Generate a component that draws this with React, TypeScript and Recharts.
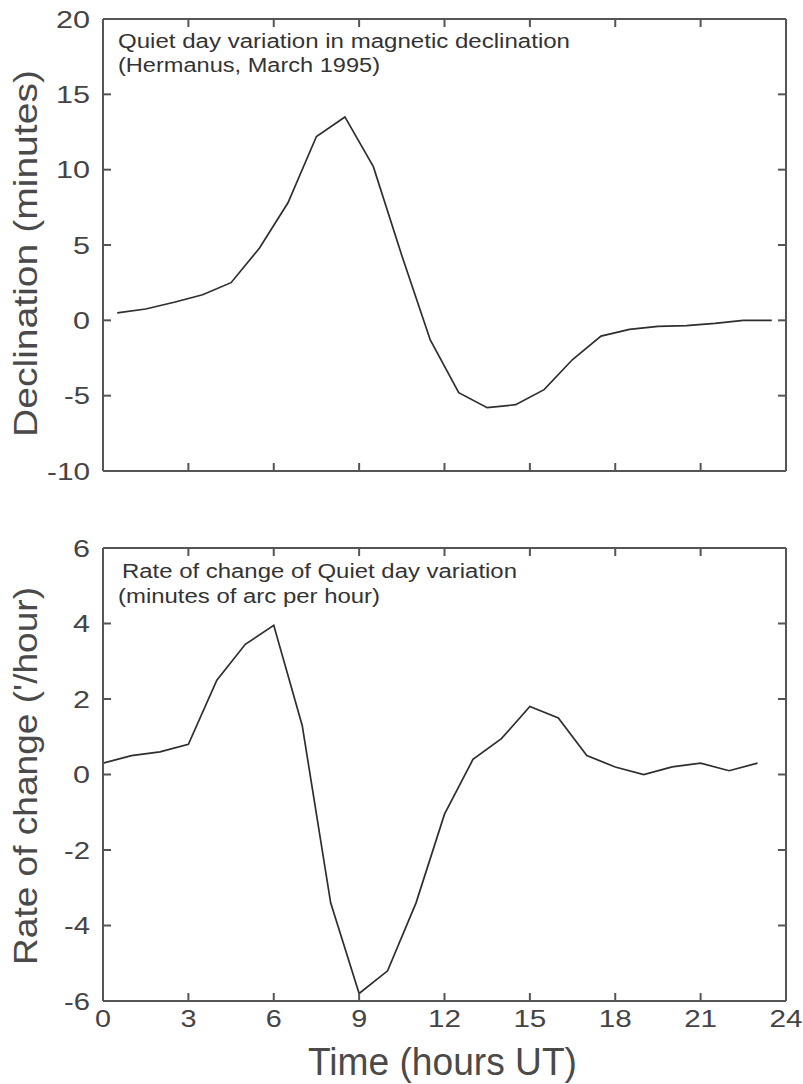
import React from 'react';
import { LineChart, Line, XAxis, YAxis } from 'recharts';

// ---------- data ----------
const HOURS_DECL = [0.5, 1.5, 2.5, 3.5, 4.5, 5.5, 6.5, 7.5, 8.5, 9.5, 10.5, 11.5, 12.5, 13.5, 14.5, 15.5, 16.5, 17.5, 18.5, 19.5, 20.5, 21.5, 22.5, 23.5];
const DECLINATION = [0.5, 0.75, 1.2, 1.7, 2.5, 4.8, 7.8, 12.2, 13.5, 10.2, 4.3, -1.3, -4.8, -5.8, -5.6, -4.6, -2.6, -1.05, -0.6, -0.4, -0.35, -0.2, 0.0, 0.0];

const HOURS_RATE = [0, 1, 2, 3, 4, 5, 6, 7, 8, 9, 10, 11, 12, 13, 14, 15, 16, 17, 18, 19, 20, 21, 22, 23];
const RATE = [0.3, 0.5, 0.6, 0.8, 2.5, 3.45, 3.95, 1.3, -3.4, -5.8, -5.2, -3.4, -1.05, 0.4, 0.95, 1.8, 1.5, 0.5, 0.2, 0.0, 0.2, 0.3, 0.1, 0.3];

const X_TICKS = [0, 3, 6, 9, 12, 15, 18, 21, 24];
const DECL_TICKS = [-10, -5, 0, 5, 10, 15, 20];
const RATE_TICKS = [-6, -4, -2, 0, 2, 4, 6];

const DECL_TITLE = ['Quiet day variation in magnetic declination', '(Hermanus, March 1995)'];
const RATE_TITLE = ['Rate of change of Quiet day variation', '(minutes of arc per hour)'];
const X_LABEL = 'Time (hours UT)';
const DECL_Y_LABEL = 'Declination (minutes)';
const RATE_Y_LABEL = "Rate of change ('/hour)";

const declData = HOURS_DECL.map((h, i) => ({ h, v: DECLINATION[i] }));
const rateData = HOURS_RATE.map((h, i) => ({ h, v: RATE[i] }));

// ---------- styles ----------
const FRAME = '#555555';
const LINE = '#2e2e2e';
const FONT = '"Liberation Sans", Arial, Helvetica, sans-serif';
const TICK_LEN = 8;

const numLen = (s: string) => {
  let w = 0;
  for (const c of s) w += c === '-' ? 9 : 17;
  return w;
};

const LeftTick = (props: any) => {
  const { x, y, payload } = props;
  const s = String(payload.value);
  return (
    <g>
      <line x1={x} x2={x + TICK_LEN} y1={y} y2={y} stroke={FRAME} strokeWidth={2} />
      <text x={x - 13} y={y + 8.5} textAnchor="end" fontFamily={FONT} fontSize={24} fill="#444"
        textLength={numLen(s)} lengthAdjust="spacingAndGlyphs">{s}</text>
    </g>
  );
};

const RightTick = (props: any) => {
  const { x, y } = props;
  return <line x1={x} x2={x - TICK_LEN} y1={y} y2={y} stroke={FRAME} strokeWidth={2} />;
};

const TopTick = (props: any) => {
  const { x, y } = props;
  return <line x1={x} x2={x} y1={y} y2={y + TICK_LEN} stroke={FRAME} strokeWidth={2} />;
};

const BottomTick = (props: any) => {
  const { x, y, payload, showLabels } = props;
  const s = String(payload.value);
  return (
    <g>
      <line x1={x} x2={x} y1={y} y2={y - TICK_LEN} stroke={FRAME} strokeWidth={2} />
      {showLabels ? (
        <text x={x} y={y + 26} textAnchor="middle" fontFamily={FONT} fontSize={24} fill="#444"
          textLength={numLen(s) - 1} lengthAdjust="spacingAndGlyphs">{s}</text>
      ) : null}
    </g>
  );
};

const YTitle = (props: any) => {
  const { viewBox, text, len, shift } = props;
  const cx = viewBox.x + 37;
  const cy = viewBox.y + viewBox.height / 2 + shift;
  return (
    <text x={cx} y={cy} transform={`rotate(-90 ${cx} ${cy})`} textAnchor="middle" fontFamily={FONT}
      fontSize={34} fill="#4a4a4a" textLength={len} lengthAdjust="spacingAndGlyphs">{text}</text>
  );
};

const XTitle = (props: any) => {
  const { viewBox, text } = props;
  const cx = viewBox.x + viewBox.width / 2 - 2;
  const cy = viewBox.y + 74;
  return (
    <text x={cx} y={cy} textAnchor="middle" fontFamily={FONT} fontSize={38} fill="#4a4a4a"
      textLength={269} lengthAdjust="spacingAndGlyphs">{text}</text>
  );
};

const Annotation = (props: any) => {
  const { viewBox, lines, lens, base1, base2, dx } = props;
  const top = viewBox.y + viewBox.height;
  return (
    <g>
      <text x={viewBox.x + dx} y={top + base1} fontFamily={FONT} fontSize={20} fill="#333"
        textLength={lens[0]} lengthAdjust="spacingAndGlyphs">{lines[0]}</text>
      <text x={viewBox.x + 15} y={top + base2} fontFamily={FONT} fontSize={20} fill="#333"
        textLength={lens[1]} lengthAdjust="spacingAndGlyphs">{lines[1]}</text>
    </g>
  );
};

const axisLine = { stroke: FRAME, strokeWidth: 2 };

export default function App() {
  return (
    <div style={{ position: 'absolute', left: 0, top: 0, width: 803, height: 1084, background: '#fff' }}>
      <div style={{ position: 'absolute', left: 0, top: 0 }}>
        <LineChart width={803} height={491} data={declData} margin={{ top: 18, right: 16, left: 0, bottom: 0 }}>
          <XAxis dataKey="h" type="number" domain={[0, 24]} ticks={X_TICKS} interval={0} allowDataOverflow
            height={20} tickSize={0} tickMargin={0} axisLine={axisLine} tickLine={false}
            tick={<BottomTick showLabels={false} />} />
          <XAxis xAxisId="top" orientation="top" dataKey="h" type="number" domain={[0, 24]} ticks={X_TICKS}
            interval={0} allowDataOverflow height={1} tickSize={0} tickMargin={0} axisLine={axisLine}
            tickLine={false} tick={<TopTick />}
            label={<Annotation lines={DECL_TITLE} lens={[452, 262]} base1={29} base2={53} dx={15} />} />
          <YAxis type="number" domain={[-10, 20]} ticks={DECL_TICKS} interval={0} allowDataOverflow width={103}
            tickSize={0} tickMargin={0} axisLine={axisLine} tickLine={false} tick={<LeftTick />}
            label={<YTitle text={DECL_Y_LABEL} len={367} shift={8.5} />} />
          <YAxis yAxisId="right" orientation="right" type="number" domain={[-10, 20]} ticks={DECL_TICKS}
            interval={0} allowDataOverflow width={1} tickSize={0} tickMargin={0} axisLine={axisLine}
            tickLine={false} tick={<RightTick />} />
          <Line type="linear" dataKey="v" stroke={LINE} strokeWidth={1.7} dot={false} isAnimationActive={false} />
        </LineChart>
      </div>
      <div style={{ position: 'absolute', left: 0, top: 500 }}>
        <LineChart width={803} height={584} data={rateData} margin={{ top: 47, right: 16, left: 0, bottom: 0 }}>
          <XAxis dataKey="h" type="number" domain={[0, 24]} ticks={X_TICKS} interval={0} allowDataOverflow
            height={83} tickSize={0} tickMargin={0} axisLine={axisLine} tickLine={false}
            tick={<BottomTick showLabels={true} />} label={<XTitle text={X_LABEL} />} />
          <XAxis xAxisId="top" orientation="top" dataKey="h" type="number" domain={[0, 24]} ticks={X_TICKS}
            interval={0} allowDataOverflow height={1} tickSize={0} tickMargin={0} axisLine={axisLine}
            tickLine={false} tick={<TopTick />}
            label={<Annotation lines={RATE_TITLE} lens={[395, 262]} base1={30} base2={55} dx={19} />} />
          <YAxis type="number" domain={[-6, 6]} ticks={RATE_TICKS} interval={0} allowDataOverflow width={103}
            tickSize={0} tickMargin={0} axisLine={axisLine} tickLine={false} tick={<LeftTick />}
            label={<YTitle text={RATE_Y_LABEL} len={378} shift={1.5} />} />
          <YAxis yAxisId="right" orientation="right" type="number" domain={[-6, 6]} ticks={RATE_TICKS}
            interval={0} allowDataOverflow width={1} tickSize={0} tickMargin={0} axisLine={axisLine}
            tickLine={false} tick={<RightTick />} />
          <Line type="linear" dataKey="v" stroke={LINE} strokeWidth={1.7} dot={false} isAnimationActive={false} />
        </LineChart>
      </div>
    </div>
  );
}
